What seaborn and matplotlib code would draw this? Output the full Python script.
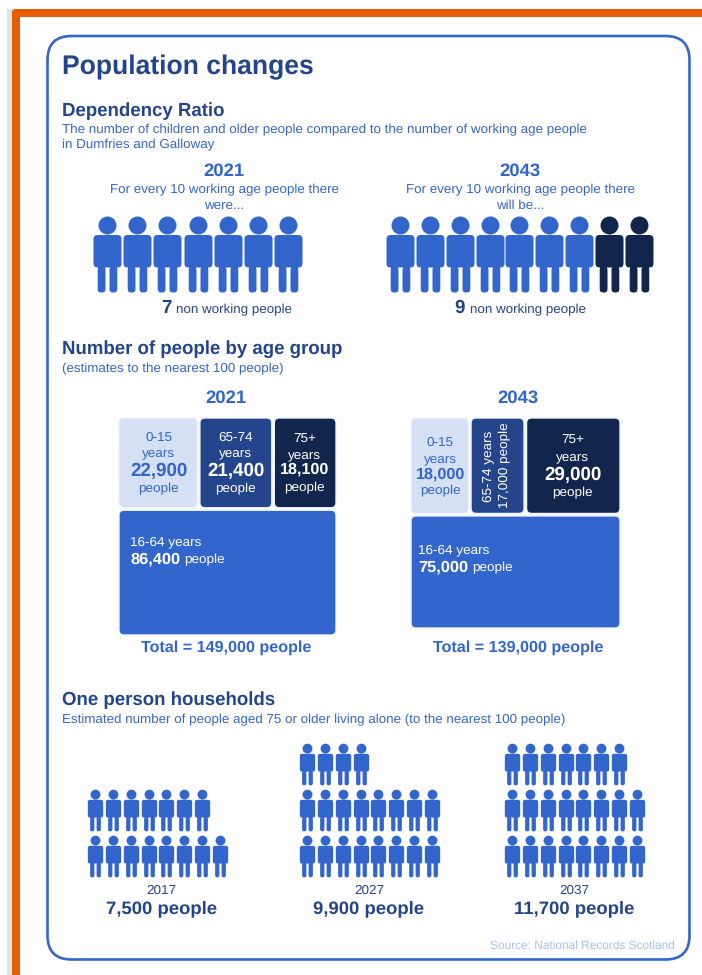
import matplotlib
matplotlib.use("Agg")
import matplotlib.pyplot as plt
import numpy as np
import pandas as pd
import seaborn as sns
from matplotlib.patches import FancyBboxPatch, Rectangle
from matplotlib.path import Path

# Data -------------------------------------------------------------------
ratio_years = ["2021", "2043"]
ratio_counts = [7, 9]
ratio_working_counted = [7, 7]

age_years = ["2021", "2043"]
age_young = [22900, 18000]
age_older = [21400, 17000]
age_oldest = [18100, 29000]
age_working = [86400, 75000]
age_totals = [149000, 139000]

household_years = ["2017", "2027", "2037"]
household_people = [7500, 9900, 11700]
people_per_icon = 500

# Palette ----------------------------------------------------------------
ORANGE = "#E85D04"
BLUE = "#3366CC"
DARK = "#24458C"
NAVY = "#12264D"
PALE = "#D6E0F5"
FAINT = "#A6C0F0"
FONT = "Liberation Sans"

# Type sizes
BODY = 9.6
TILE = 9.7
HEAD = 13.4

sns.set_theme(style="white")
plt.rcParams["font.family"] = [FONT, "DejaVu Sans"]
plt.rcParams["text.hinting"] = "no_hinting"
plt.rcParams["text.hinting_factor"] = 8

fig = plt.figure(figsize=(7.02, 9.75), dpi=100)
ax = fig.add_axes([0, 0, 1, 1])
ax.set_xlim(0, 702)
ax.set_ylim(975, 0)
ax.axis("off")


def rounded_box(x0, y0, x1, y1, r):
    """Closed counter-clockwise rounded rectangle."""
    verts = [(x0 + r, y0), (x1 - r, y0), (x1, y0), (x1, y0 + r),
             (x1, y1 - r), (x1, y1), (x1 - r, y1), (x0 + r, y1),
             (x0, y1), (x0, y1 - r), (x0, y0 + r), (x0, y0),
             (x0 + r, y0), (x0 + r, y0)]
    codes = [Path.MOVETO, Path.LINETO, Path.CURVE3, Path.CURVE3,
             Path.LINETO, Path.CURVE3, Path.CURVE3, Path.LINETO,
             Path.CURVE3, Path.CURVE3, Path.LINETO, Path.CURVE3,
             Path.CURVE3, Path.CLOSEPOLY]
    return Path(verts, codes)


# Person marker, in a box 76 units tall and centred on the origin.
person = Path.make_compound_path(
    Path.circle((0, 29), 9),
    rounded_box(-14, -13, 14, 19.5, 4),
    rounded_box(-9.8, -38, -2, -12, 3.4),
    rounded_box(2, -38, 9.8, -12, 3.4),
)


def draw_people(xs, ys, size, color):
    frame = pd.DataFrame({"x": xs, "y": ys})
    sns.scatterplot(data=frame, x="x", y="y", ax=ax, marker=person, s=size,
                    color=color, linewidth=0, legend=False, zorder=4)


def label(x, y, s, size=BODY, color=BLUE, weight="normal", ha="center", **kw):
    # Nudge down a little: the text box centre sits above the visual centre.
    shift = 0 if "rotation" in kw else size * 0.14 + (0 if weight == "bold" else 1.2)
    ax.text(x, y + shift, s, fontsize=size, color=color, fontweight=weight, ha=ha,
            va="center", family=FONT, zorder=6, **kw)


# Page furniture
ax.add_patch(Rectangle((7, 9), 6, 966, fc="#E3E3E3", ec="none", zorder=0))
ax.add_patch(FancyBboxPatch((12, 9), 700, 980, boxstyle="round,pad=0,rounding_size=3",
                            fc=ORANGE, ec="none", zorder=1))
ax.add_patch(Rectangle((20, 17), 690, 965, fc="white", ec="none", zorder=2))
ax.add_patch(FancyBboxPatch((47.5, 36), 642, 923.5, boxstyle="round,pad=0,rounding_size=24",
                            fc="white", ec=BLUE, lw=1.9, zorder=3))

# Headings
label(62, 64.5, "Population changes", 19.1, DARK, "bold", "left")
label(62, 109, "Dependency Ratio", HEAD, DARK, "bold", "left")
label(62, 127, "The number of children and older people compared to the number of working age people",
      BODY, BLUE, ha="left")
label(62, 142.5, "in Dumfries and Galloway", BODY, BLUE, ha="left")
label(62, 347, "Number of people by age group", HEAD, DARK, "bold", "left")
label(62, 366, "(estimates to the nearest 100 people)", BODY, BLUE, ha="left")
label(62, 698.5, "One person households", HEAD, DARK, "bold", "left")
label(62, 717, "Estimated number of people aged 75 or older living alone (to the nearest 100 people)",
      BODY, BLUE, ha="left")
label(675, 943.5, "Source: National Records Scotland", 8.6, FAINT, ha="right")

# Dependency ratio icons
ratio_left = [107, 400]
ratio_step = [30.2, 29.85]
ratio_title_x = [224, 520]
ratio_second_line = ["were...", "will be..."]
ratio_text_x = [(161, 176), (454, 470)]
for i, year in enumerate(ratio_years):
    label(ratio_title_x[i], 169, year, 13.3, BLUE, "bold")
    label(ratio_title_x[i], 187.5, "For every 10 working age people there", BODY)
    label(ratio_title_x[i], 202.5, ratio_second_line[i], BODY)
    xs = ratio_left[i] + ratio_step[i] * np.arange(ratio_counts[i])
    ys = np.full(ratio_counts[i], 254.0)
    split = ratio_working_counted[i]
    draw_people(xs[:split], ys[:split], 2995, BLUE)
    if ratio_counts[i] > split:
        draw_people(xs[split:], ys[split:], 2995, NAVY)
    label(ratio_text_x[i][0], 306, str(ratio_counts[i]), 13.5, DARK, "bold", "left")
    label(ratio_text_x[i][1], 307, "non working people", BODY, DARK, ha="left")


# Age group treemaps: tile sizes come straight from the population values
def tile(x0, y0, x1, y1, color):
    ax.add_patch(FancyBboxPatch((x0, y0), x1 - x0, y1 - y0,
                                boxstyle="round,pad=0,rounding_size=5",
                                fc=color, ec="#EDF1FA", lw=1.0, zorder=4))


def stack_text(cx, top, lines, color, rows, big=13.5):
    for offset, text, size, weight in zip(rows, lines, [TILE, TILE, big, TILE],
                                          ["normal", "normal", "bold", "normal"]):
        label(cx, top + offset, text, size, color, weight)


map_x = [(119, 336), (411, 620)]
map_y = [(418, 635), (418, 628)]
map_centre = [226, 518]
GAP = 2.5
for i, year in enumerate(age_years):
    label(map_centre[i], 396, year, 13.3, BLUE, "bold")
    x0, x1 = map_x[i]
    y0, y1 = map_y[i]
    top_values = [age_young[i], age_older[i], age_oldest[i]]
    top_sum = sum(top_values)
    whole = top_sum + age_working[i]
    split_y = y0 + (y1 - y0) * top_sum / whole
    edges = x0 + (x1 - x0) * np.cumsum([0] + top_values) / top_sum

    colors = [PALE, DARK, NAVY]
    for k in range(3):
        tile(edges[k] + (GAP / 2 if k else 0), y0,
             edges[k + 1] - (GAP / 2 if k < 2 else 0), split_y - GAP / 2, colors[k])
    tile(x0, split_y + GAP / 2, x1, y1, BLUE)

    c = (edges[:-1] + edges[1:]) / 2
    if i == 0:
        stack_text(c[0], y0, ["0-15", "years", f"{top_values[0]:,}", "people"], BLUE, [17, 32, 51, 68.5])
        stack_text(c[1], y0, ["65-74", "years", f"{top_values[1]:,}", "people"], "white", [17, 32, 51, 68.5])
        stack_text(c[2], y0, ["75+", "years", f"{top_values[2]:,}", "people"], "white", [19, 34, 50, 67.5], big=11.6)
        body_x, body_y = 130, 539.5
    else:
        stack_text(c[0], y0, ["0-15", "years", f"{top_values[0]:,}", "people"], BLUE, [22, 38, 55, 70.5], big=11.6)
        label(c[1] - 9.5, 466, "65-74 years", TILE, "white", rotation=90)
        label(c[1] + 7.5, 465, f"{top_values[1]:,} people", TILE, "white", rotation=90)
        stack_text(c[2], y0, ["75+", "years", f"{top_values[2]:,}", "people"], "white", [20, 36, 55, 72.5])
        body_x, body_y = 418, 547.5
    label(body_x, body_y, "16-64 years", TILE, "white", ha="left")
    label(body_x, body_y + 18, f"{age_working[i]:,}", 11.8, "white", "bold", "left")
    label(body_x + 54, body_y + 18, "people", TILE, "white", ha="left")
    label(map_centre[i], 646, f"Total = {age_totals[i]:,} people", 11.6, BLUE, "bold")

# One person households: rows of icons fill from the bottom up
house_left = [95, 307, 512]
house_label_x = [161.5, 369, 574]
ROW_SIZE = 8
for i, year in enumerate(household_years):
    icons = round(household_people[i] / people_per_icon)
    slots = np.arange(icons)
    xs = house_left[i] + 17.85 * (slots % ROW_SIZE)
    ys = 855.5 - 46 * (slots // ROW_SIZE)
    draw_people(xs, ys, 900, BLUE)
    label(house_label_x[i], 887.5, year, TILE, DARK)
    label(house_label_x[i], 907, f"{household_people[i]:,} people", 13.3, DARK, "bold")

ax.set_xlim(0, 702)
ax.set_ylim(975, 0)
ax.set_xlabel("")
ax.set_ylabel("")
fig.savefig("out.png", dpi=100, facecolor="white")
